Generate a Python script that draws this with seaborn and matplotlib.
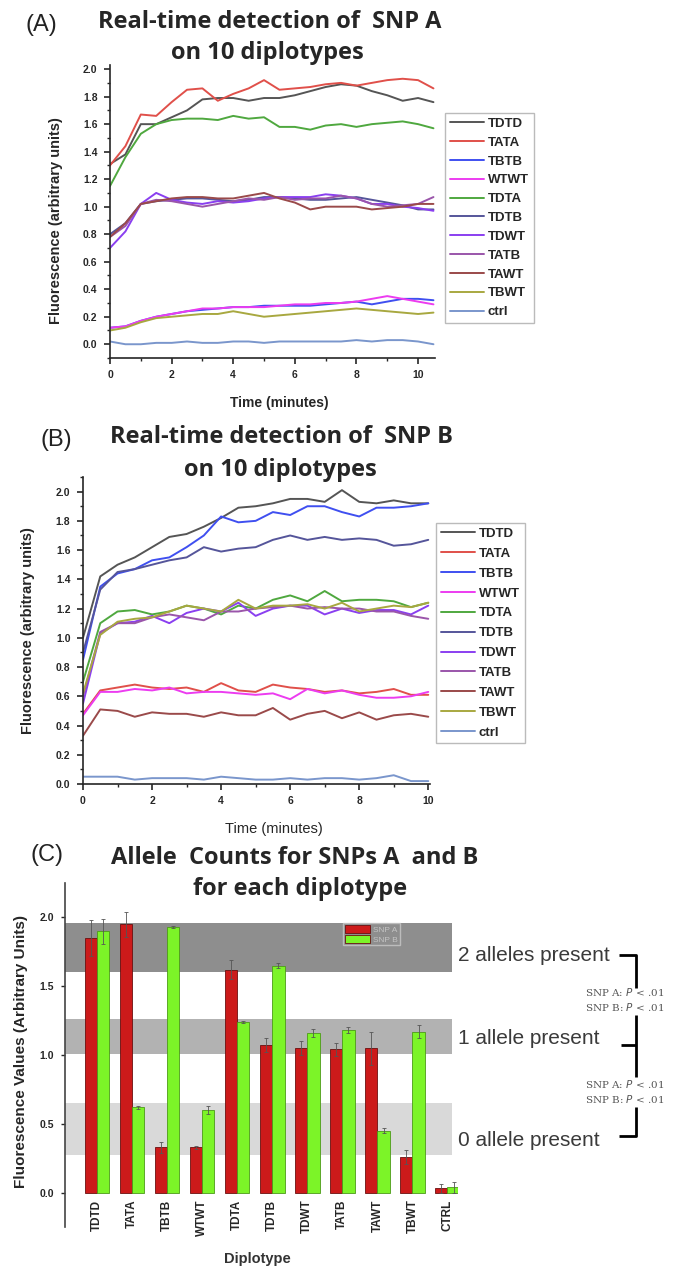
import numpy as np
import pandas as pd
import matplotlib
matplotlib.use('Agg')
import matplotlib.pyplot as plt
from matplotlib.ticker import MultipleLocator
import seaborn as sns

# ---------------- data ----------------
diplotypes = ["TDTD", "TATA", "TBTB", "WTWT", "TDTA", "TDTB", "TDWT", "TATB", "TAWT", "TBWT", "ctrl"]
line_colors = ["#555555", "#e0504a", "#3f4ff0", "#ec3cf0", "#4fa83f", "#55559a",
               "#8a3ff0", "#9a55aa", "#9a4a4a", "#a8a840", "#7a96cc"]

# panel A: SNP A, time in minutes
time_a = [0, 0.5, 1, 1.5, 2, 2.5, 3, 3.5, 4, 4.5, 5, 5.5, 6, 6.5, 7, 7.5, 8, 8.5, 9, 9.5, 10, 10.5]
a_tdtd = [1.31, 1.38, 1.60, 1.60, 1.65, 1.70, 1.78, 1.79, 1.79, 1.77, 1.79, 1.79, 1.81, 1.84, 1.87, 1.89, 1.88, 1.84, 1.81, 1.77, 1.79, 1.76]
a_tata = [1.30, 1.44, 1.67, 1.66, 1.76, 1.85, 1.86, 1.77, 1.82, 1.86, 1.92, 1.85, 1.86, 1.87, 1.89, 1.90, 1.88, 1.90, 1.92, 1.93, 1.92, 1.86]
a_tbtb = [0.12, 0.13, 0.17, 0.20, 0.22, 0.24, 0.25, 0.26, 0.27, 0.27, 0.28, 0.28, 0.28, 0.28, 0.29, 0.30, 0.31, 0.29, 0.31, 0.33, 0.33, 0.32]
a_wtwt = [0.12, 0.13, 0.17, 0.20, 0.22, 0.24, 0.26, 0.26, 0.27, 0.27, 0.27, 0.28, 0.29, 0.29, 0.30, 0.30, 0.31, 0.33, 0.35, 0.33, 0.31, 0.29]
a_tdta = [1.15, 1.36, 1.53, 1.60, 1.63, 1.64, 1.64, 1.63, 1.66, 1.64, 1.65, 1.58, 1.58, 1.56, 1.59, 1.60, 1.58, 1.60, 1.61, 1.62, 1.60, 1.57]
a_tdtb = [0.80, 0.88, 1.02, 1.04, 1.05, 1.06, 1.06, 1.05, 1.04, 1.05, 1.07, 1.07, 1.06, 1.05, 1.05, 1.06, 1.07, 1.05, 1.03, 1.01, 0.98, 0.98]
a_tdwt = [0.70, 0.82, 1.02, 1.10, 1.05, 1.03, 1.02, 1.04, 1.03, 1.04, 1.06, 1.07, 1.07, 1.07, 1.09, 1.08, 1.06, 1.02, 1.02, 1.00, 0.99, 0.97]
a_tatb = [0.78, 0.86, 1.02, 1.05, 1.04, 1.02, 1.00, 1.02, 1.04, 1.06, 1.05, 1.07, 1.05, 1.06, 1.06, 1.08, 1.06, 1.02, 1.00, 1.01, 1.02, 1.07]
a_tawt = [0.78, 0.88, 1.02, 1.04, 1.06, 1.07, 1.07, 1.06, 1.06, 1.08, 1.10, 1.06, 1.03, 0.98, 1.00, 1.00, 1.00, 0.98, 0.99, 1.00, 1.02, 1.02]
a_tbwt = [0.10, 0.12, 0.16, 0.19, 0.20, 0.21, 0.22, 0.22, 0.24, 0.22, 0.20, 0.21, 0.22, 0.23, 0.24, 0.25, 0.26, 0.25, 0.24, 0.23, 0.22, 0.23]
a_ctrl = [0.02, 0.00, 0.00, 0.01, 0.01, 0.02, 0.01, 0.01, 0.02, 0.02, 0.01, 0.02, 0.02, 0.02, 0.02, 0.02, 0.03, 0.02, 0.03, 0.03, 0.02, 0.00]

# panel B: SNP B
time_b = [0, 0.5, 1, 1.5, 2, 2.5, 3, 3.5, 4, 4.5, 5, 5.5, 6, 6.5, 7, 7.5, 8, 8.5, 9, 9.5, 10]
b_tdtd = [1.00, 1.42, 1.50, 1.55, 1.62, 1.69, 1.71, 1.76, 1.82, 1.89, 1.90, 1.92, 1.95, 1.95, 1.93, 2.01, 1.93, 1.92, 1.94, 1.92, 1.92]
b_tata = [0.48, 0.64, 0.66, 0.68, 0.66, 0.65, 0.66, 0.63, 0.69, 0.64, 0.63, 0.68, 0.66, 0.65, 0.63, 0.64, 0.62, 0.63, 0.65, 0.61, 0.61]
b_tbtb = [0.85, 1.35, 1.44, 1.47, 1.53, 1.55, 1.62, 1.70, 1.83, 1.79, 1.80, 1.86, 1.84, 1.90, 1.90, 1.86, 1.83, 1.89, 1.89, 1.90, 1.92]
b_wtwt = [0.47, 0.63, 0.63, 0.65, 0.64, 0.66, 0.62, 0.63, 0.63, 0.62, 0.61, 0.62, 0.58, 0.65, 0.62, 0.64, 0.61, 0.59, 0.59, 0.60, 0.63]
b_tdta = [0.70, 1.10, 1.18, 1.19, 1.16, 1.18, 1.22, 1.20, 1.16, 1.22, 1.20, 1.26, 1.29, 1.25, 1.32, 1.25, 1.26, 1.26, 1.25, 1.21, 1.24]
b_tdtb = [0.90, 1.33, 1.45, 1.47, 1.50, 1.53, 1.55, 1.62, 1.59, 1.61, 1.62, 1.67, 1.70, 1.67, 1.69, 1.67, 1.68, 1.67, 1.63, 1.64, 1.67]
b_tdwt = [0.55, 1.03, 1.10, 1.11, 1.15, 1.10, 1.17, 1.20, 1.18, 1.24, 1.15, 1.20, 1.22, 1.22, 1.16, 1.20, 1.17, 1.19, 1.19, 1.16, 1.22]
b_tatb = [0.60, 1.04, 1.10, 1.10, 1.14, 1.16, 1.14, 1.12, 1.18, 1.18, 1.20, 1.21, 1.22, 1.20, 1.21, 1.20, 1.20, 1.18, 1.18, 1.15, 1.13]
b_tawt = [0.33, 0.51, 0.50, 0.46, 0.49, 0.48, 0.48, 0.46, 0.49, 0.47, 0.47, 0.52, 0.44, 0.48, 0.50, 0.45, 0.49, 0.44, 0.47, 0.48, 0.46]
b_tbwt = [0.62, 1.02, 1.11, 1.13, 1.14, 1.18, 1.22, 1.20, 1.18, 1.26, 1.20, 1.22, 1.22, 1.23, 1.20, 1.24, 1.18, 1.20, 1.22, 1.21, 1.24]
b_ctrl = [0.05, 0.05, 0.05, 0.03, 0.04, 0.04, 0.04, 0.03, 0.05, 0.04, 0.03, 0.03, 0.04, 0.03, 0.04, 0.04, 0.03, 0.04, 0.06, 0.02, 0.02]

# panel C: allele counts
bar_labels = ["TDTD", "TATA", "TBTB", "WTWT", "TDTA", "TDTB", "TDWT", "TATB", "TAWT", "TBWT", "CTRL"]
c_snp_a = [1.85, 1.95, 0.33, 0.33, 1.62, 1.07, 1.05, 1.04, 1.05, 0.26, 0.03]
c_snp_b = [1.90, 0.62, 1.93, 0.60, 1.24, 1.65, 1.16, 1.18, 0.45, 1.17, 0.04]
c_err_a = [0.13, 0.09, 0.04, 0.01, 0.07, 0.05, 0.05, 0.05, 0.12, 0.05, 0.03]
c_err_b = [0.09, 0.01, 0.01, 0.03, 0.01, 0.02, 0.03, 0.02, 0.02, 0.05, 0.04]
bands = [(1.60, 1.96, "#8e8e8e", "2 alleles present", 1.72),
         (1.01, 1.26, "#b2b2b2", "1 allele present", 1.12),
         (0.27, 0.65, "#d9d9d9", "0 allele present", 0.38)]

sns.set_style("ticks")
plt.rcParams['font.family'] = ['Liberation Sans', 'DejaVu Sans']
plt.rcParams['axes.linewidth'] = 1.2

W, H = 678, 1272
fig = plt.figure(figsize=(W / 100, H / 100), dpi=100)


def box(l, t, r, b):
    return [l / W, 1 - b / H, (r - l) / W, (b - t) / H]


def fxy(px, py):
    return px / W, 1 - py / H


def long_df(t, series):
    rows = []
    for name, vals in zip(diplotypes, series):
        for x, v in zip(t, vals):
            rows.append((x, v, name))
    return pd.DataFrame(rows, columns=["time", "value", "diplotype"])


def line_panel(ax, df, xmax, ylim, legend_xy, spacing, lsize):
    sns.lineplot(data=df, x="time", y="value", hue="diplotype", hue_order=diplotypes,
                 palette=line_colors, lw=1.4, ax=ax, legend=True)
    ax.set_xlim(0, xmax)
    ax.set_ylim(*ylim)
    ax.xaxis.set_major_locator(MultipleLocator(2))
    ax.xaxis.set_minor_locator(MultipleLocator(1))
    ax.yaxis.set_major_locator(MultipleLocator(0.2))
    ax.yaxis.set_minor_locator(MultipleLocator(0.1))
    ax.tick_params(which='major', length=4, width=1.2, labelsize=7.5, pad=5)
    ax.tick_params(which='minor', length=2.5, width=1)
    for lab in ax.get_xticklabels() + ax.get_yticklabels():
        lab.set_fontweight('bold')
    sns.despine(ax=ax)
    h, l = ax.get_legend_handles_labels()
    ax.legend(h, l, loc='upper left', bbox_to_anchor=fxy(*legend_xy), bbox_transform=fig.transFigure,
              prop={'weight': 'bold', 'size': lsize}, frameon=True, fancybox=False,
              edgecolor='#aaaaaa', handlelength=2.6, handletextpad=0.3, labelspacing=spacing,
              borderpad=0.35, borderaxespad=0)


# ---------------- panel A ----------------
axA = fig.add_axes(box(110, 65, 435, 358))
dfA = long_df(time_a, [a_tdtd, a_tata, a_tbtb, a_wtwt, a_tdta, a_tdtb, a_tdwt, a_tatb, a_tawt, a_tbwt, a_ctrl])
line_panel(axA, dfA, 10.55, (-0.1, 2.03), (445, 113), 0.5, 9.5)
axA.set_xlabel("Time (minutes)", fontsize=10, fontweight='bold')
axA.set_ylabel("Fluorescence (arbitrary units)", fontsize=10.5, fontweight='bold')
axA.xaxis.set_label_coords(0.52, -0.13)
axA.yaxis.set_label_coords(-0.145, 0.47)

# ---------------- panel B ----------------
axB = fig.add_axes(box(83, 477, 430, 784))
dfB = long_df(time_b, [b_tdtd, b_tata, b_tbtb, b_wtwt, b_tdta, b_tdtb, b_tdwt, b_tatb, b_tawt, b_tbwt, b_ctrl])
line_panel(axB, dfB, 10.05, (0, 2.1), (436, 523), 0.58, 9.5)
axB.set_xlabel("Time (minutes)", fontsize=10.5)
axB.set_ylabel("Fluorescence (arbitrary units)", fontsize=10.5, fontweight='bold')
axB.xaxis.set_label_coords(0.55, -0.125)
axB.yaxis.set_label_coords(-0.138, 0.5)

# ---------------- panel C ----------------
axC = fig.add_axes(box(65, 883, 458, 1227))
dfC = pd.DataFrame({"Diplotype": bar_labels * 2,
                    "value": c_snp_a + c_snp_b,
                    "SNP": ["SNP A"] * len(bar_labels) + ["SNP B"] * len(bar_labels)})
for lo, hi, col, txt, ty in bands:
    axC.axhspan(lo, hi, xmin=0, xmax=0.985, color=col, lw=0, zorder=0)
    axC.text(10.31, ty, txt, fontsize=15, color='#3a3a3a', va='center', ha='left', clip_on=False)
sns.barplot(data=dfC, x="Diplotype", y="value", hue="SNP", order=bar_labels,
            palette={"SNP A": "#cc1a1a", "SNP B": "#7cf428"}, saturation=1, width=0.7, gap=0,
            edgecolor='#6a1010', linewidth=0.6, ax=axC, zorder=2)
for p in axC.containers[1].patches:
    p.set_edgecolor('#4c9a18')
for cont, errs in zip(axC.containers, [c_err_a, c_err_b]):
    xs = [p.get_x() + p.get_width() / 2 for p in cont.patches]
    ys = [p.get_height() for p in cont.patches]
    axC.errorbar(xs, ys, yerr=errs, fmt='none', ecolor='#555555', elinewidth=0.6,
                 capsize=1.5, capthick=0.6, zorder=3)
axC.set_xlim(-0.914, 10.3)
axC.set_ylim(-0.25, 2.25)
axC.yaxis.set_major_locator(MultipleLocator(0.5))
axC.yaxis.set_major_formatter(matplotlib.ticker.FormatStrFormatter('%.1f'))
axC.spines['top'].set_visible(False)
axC.spines['right'].set_visible(False)
axC.spines['bottom'].set_position(('data', 0))
axC.spines['bottom'].set_visible(False)
axC.spines['left'].set_color('#444444')
axC.tick_params(axis='x', length=0, pad=5, labelsize=8.5, rotation=90)
axC.tick_params(axis='y', length=3, width=1, labelsize=7.5, pad=5)
for lab in axC.get_xticklabels() + axC.get_yticklabels():
    lab.set_fontweight('bold')
axC.set_xlabel("Diplotype", fontsize=10.5, fontweight='bold', color='#333333')
axC.set_ylabel("Fluorescence Values (Arbitrary Units)", fontsize=11, fontweight='bold')
axC.xaxis.set_label_coords(0.49, -0.072)
axC.yaxis.set_label_coords(-0.094, 0.51)
h, l = axC.get_legend_handles_labels()
axC.legend(h, l, loc='upper left', bbox_to_anchor=fxy(343, 923), bbox_transform=fig.transFigure,
           fontsize=6, labelcolor='#c4c4c4', frameon=True, fancybox=False, facecolor='none',
           edgecolor='#c8c8c8', handlelength=3.0, handleheight=1.1, handletextpad=0.4,
           labelspacing=0.15, borderpad=0.2, borderaxespad=0)

# significance brackets (data coords of panel C, outside the axes)
bk = dict(color='black', lw=2, clip_on=False, solid_capstyle='butt')
axC.plot([14.89, 15.37, 15.37], [1.73, 1.73, 1.49], **bk)
axC.plot([15.37, 15.37], [1.29, 0.84], **bk)
axC.plot([14.95, 15.37], [1.07, 1.07], **bk)
axC.plot([15.37, 15.37, 14.89], [0.62, 0.41, 0.41], **bk)
sig = dict(fontsize=7.5, color='#555555', ha='center', va='center', family='DejaVu Serif', clip_on=False)
for ty, txt in [(1.46, "SNP A: $P$ < .01"), (1.35, "SNP B: $P$ < .01"),
                (0.79, "SNP A: $P$ < .01"), (0.68, "SNP B: $P$ < .01")]:
    axC.text(15.05, ty, txt, **sig)

# ---------------- titles ----------------
ttl = dict(fontsize=17, fontweight='bold', ha='center', va='center', family=['Open Sans', 'DejaVu Sans'])
fig.text(*fxy(270, 22), "Real-time detection of  SNP A", **ttl)
fig.text(*fxy(267, 53), "on 10 diplotypes", **ttl)
fig.text(*fxy(282, 437), "Real-time detection of  SNP B", **ttl)
fig.text(*fxy(280, 470), "on 10 diplotypes", **ttl)
fig.text(*fxy(295, 858), "Allele  Counts for SNPs A  and B", **ttl)
fig.text(*fxy(300, 889), "for each diplotype", **ttl)
pan = dict(fontsize=17, ha='center', va='center', color='#222222')
fig.text(*fxy(41, 25), "(A)", **pan)
fig.text(*fxy(56, 440), "(B)", **pan)
fig.text(*fxy(47, 855), "(C)", **pan)

fig.savefig("out.png", dpi=100)
